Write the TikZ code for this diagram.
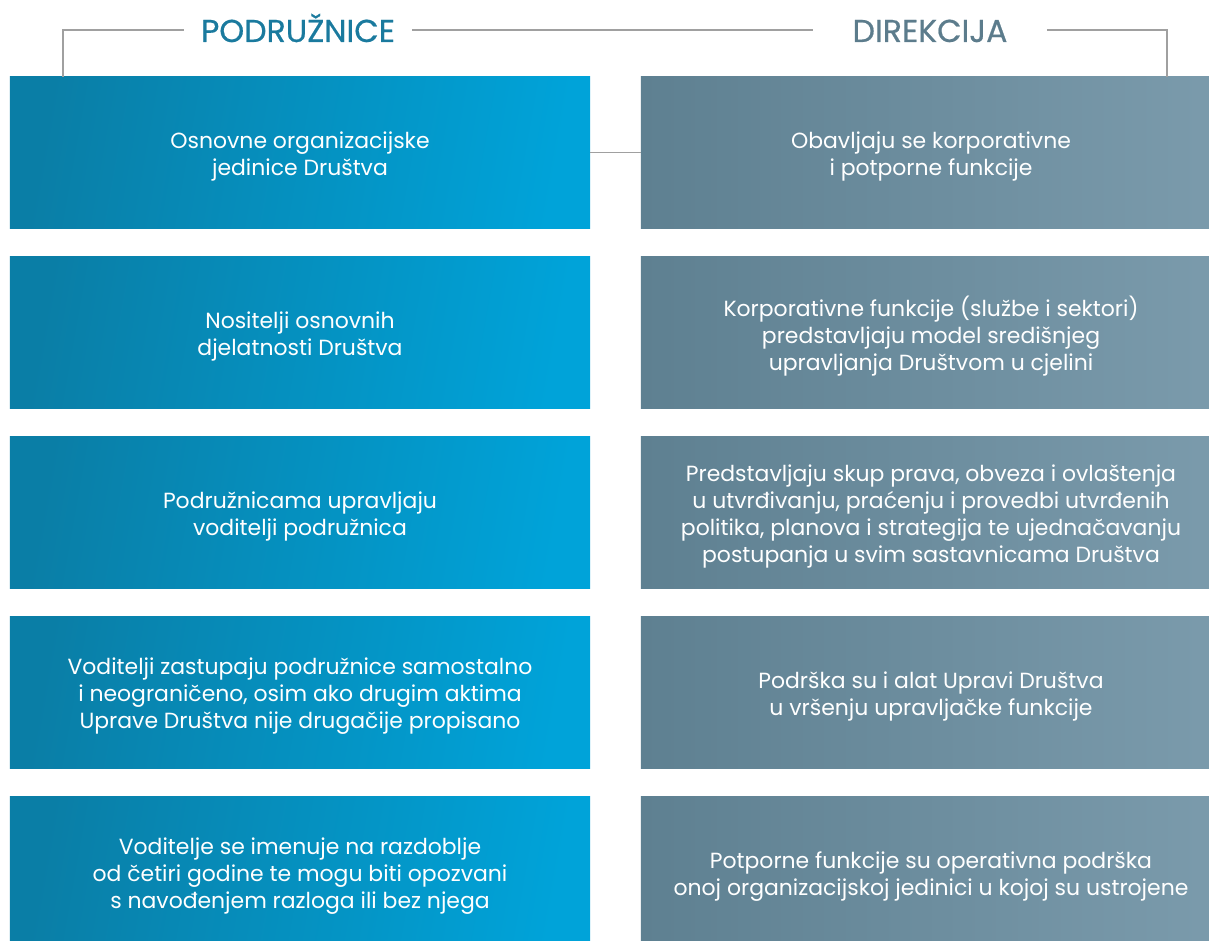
\documentclass[tikz,border=0pt]{standalone}
\usepackage{fontspec}
\setmainfont{Poppins}
\newfontfamily\headfont{Poppins}[FakeBold=0.6]
\usepackage{tikz}
\usetikzlibrary{positioning,calc}

\definecolor{podlight}{HTML}{00A3D9}
\definecolor{poddark}{HTML}{0A7EA6}
\definecolor{dirlight}{HTML}{7B9BAC}
\definecolor{dirdark}{HTML}{5E8091}
\definecolor{podhead}{HTML}{1A7A9E}
\definecolor{dirhead}{HTML}{5C7C8C}
\definecolor{bracketgray}{HTML}{A0A0A0}

\tikzset{
	podbox/.style={rectangle,minimum width=14.5cm,minimum height=3.775cm,
		inner sep=0pt,left color=poddark,right color=podlight,shading angle=80},
	dirbox/.style={podbox,left color=dirdark,right color=dirlight},
	boxtext/.style={text=white,align=center,inner sep=0pt,
		font=\fontsize{15.6}{19.2}\selectfont},
	headtext/.style={font=\headfont\fontsize{22.5}{26}\selectfont,inner ysep=0pt,anchor=base},
	bracket/.style={draw=bracketgray,line width=1.2pt}
}

\begin{document}
\begin{tikzpicture}[x=0.025cm,y=-0.025cm]
	\useasboundingbox (0,0) rectangle (1209,940);
	% headers
	\node[headtext,text=podhead,inner xsep=0.42cm](podhead) at (298,42) {PODRUŽNICE};
	\node[headtext,text=dirhead,inner xsep=0.98cm](dirhead) at (930,42) {DIREKCIJA};
	% left column
	\node[podbox](p1) at (300,152.5) {};
	\node[podbox](p2) at (300,332.5) {};
	\node[podbox](p3) at (300,512.5) {};
	\node[podbox](p4) at (300,692.5) {};
	\node[podbox](p5) at (300,872.5) {};
	\node[boxtext](p1t) at ([yshift=-1mm]p1.center) {Osnovne organizacijske\\jedinice Društva};
	\node[boxtext](p2t) at ([yshift=-1mm]p2.center) {Nositelji osnovnih\\djelatnosti Društva};
	\node[boxtext](p3t) at ([yshift=-1mm]p3.center) {Podružnicama upravljaju\\voditelji podružnica};
	\node[boxtext](p4t) at ([yshift=-1mm]p4.center) {Voditelji zastupaju podružnice samostalno\\i neograničeno, osim ako drugim aktima\\Uprave Društva nije drugačije propisano};
	\node[boxtext](p5t) at ([yshift=-1mm]p5.center) {Voditelje se imenuje na razdoblje\\od četiri godine te mogu biti opozvani\\s navođenjem razloga ili bez njega};
	% right column
	\node[dirbox](d1) at (931,152.5) {};
	\node[dirbox](d2) at (931,332.5) {};
	\node[dirbox](d3) at (931,512.5) {};
	\node[dirbox](d4) at (931,692.5) {};
	\node[dirbox](d5) at (931,872.5) {};
	\node[boxtext](d1t) at ([yshift=-1mm]d1.center) {Obavljaju se korporativne\\i potporne funkcije};
	\node[boxtext](d2t) at ([yshift=-1mm]d2.center) {Korporativne funkcije (službe i sektori)\\predstavljaju model središnjeg\\upravljanja Društvom u cjelini};
	\node[boxtext](d3t) at ([yshift=-1mm]d3.center) {Predstavljaju skup prava, obveza i ovlaštenja\\u utvrđivanju, praćenju i provedbi utvrđenih\\politika, planova i strategija te ujednačavanju\\postupanja u svim sastavnicama Društva};
	\node[boxtext](d4t) at ([yshift=-1mm]d4.center) {Podrška su i alat Upravi Društva\\u vršenju upravljačke funkcije};
	\node[boxtext](d5t) at ([yshift=-1mm]d5.center) {Potporne funkcije su operativna podrška\\onoj organizacijskoj jedinici u kojoj su ustrojene};
	% brackets
	\coordinate (lcorner) at (63,30);
	\coordinate (rcorner) at (1167,30);
	\draw[bracket] (p1.north west -| lcorner) -- (lcorner) -- (podhead.west |- lcorner);
	\draw[bracket] (podhead.east |- lcorner) -- (dirhead.west |- lcorner);
	\draw[bracket] (dirhead.east |- rcorner) -- (rcorner) -- (d1.north west -| rcorner);
	\draw[bracket] (p1.east) -- (d1.west);
\end{tikzpicture}
\end{document}
